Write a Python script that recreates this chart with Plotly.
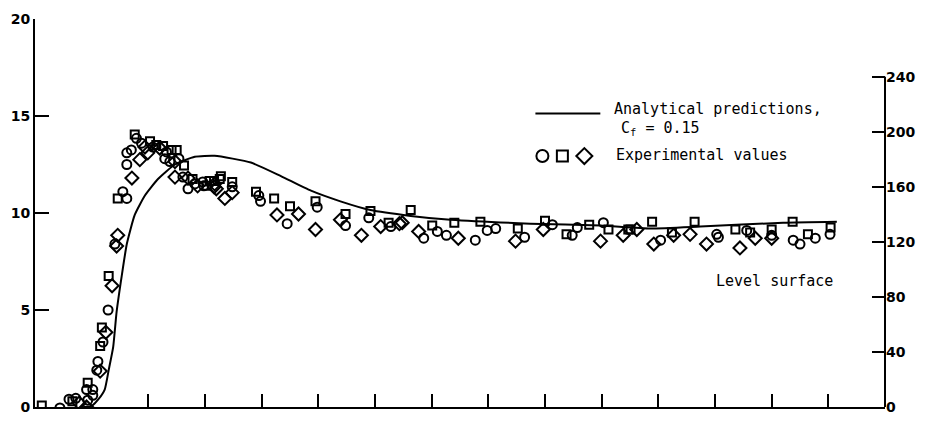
import plotly.graph_objects as go

# Analytical prediction curve (left scale)
curve_x = [0.85, 0.95, 1.02, 1.12, 1.23, 1.30, 1.38, 1.44, 1.53, 1.62, 1.76, 1.94,
           2.17, 2.47, 2.82, 3.17, 3.81, 4.34, 4.87, 5.39, 5.92, 6.63, 7.33, 8.74,
           9.98, 10.86, 11.74, 13.2, 14.15]
curve_y = [0.0, 0.02, 0.1, 0.4, 0.9, 1.9, 3.1, 4.9, 6.75, 8.4, 9.9, 10.9,
           11.75, 12.5, 12.9, 12.95, 12.6, 11.9, 11.15, 10.6, 10.15, 9.85, 9.65, 9.45,
           9.35, 9.2, 9.3, 9.5, 9.55]

# Experimental values, three runs
circle_x = [0.44, 0.6, 0.72, 0.93, 1.02, 0.91, 1.02, 1.09, 1.11, 1.2, 1.29, 1.41, 1.55, 1.62,
            1.62, 1.62, 1.7, 1.79, 1.88, 2.08, 2.32, 2.29, 2.38, 2.54, 2.61, 2.7, 2.82, 2.96,
            2.98, 3.48, 3.95, 3.98, 4.45, 4.98, 5.48, 5.89, 6.28, 6.86, 7.1, 7.26, 7.77, 7.98,
            8.13, 8.64, 9.13, 9.48, 9.57, 10.03, 11.04, 12.03, 12.06, 12.56, 13.0, 13.38, 13.5,
            13.77, 14.03]
circle_y = [-0.05, 0.4, 0.45, 0.35, 0.6, 0.9, 0.9, 1.9, 2.35, 3.35, 5.0, 8.4, 11.1, 10.75,
            12.5, 13.1, 13.25, 13.85, 13.6, 13.4, 13.15, 12.8, 12.65, 12.8, 11.85, 11.25, 11.5, 11.6,
            11.4, 11.35, 10.9, 10.6, 9.45, 10.3, 9.35, 9.75, 9.3, 8.7, 9.05, 8.85, 8.6, 9.1,
            9.2, 8.75, 9.4, 8.85, 9.25, 9.5, 8.6, 8.9, 8.75, 9.1, 8.85, 8.6, 8.4,
            8.7, 8.9]

square_x = [0.12, 0.66, 0.93, 1.15, 1.18, 1.3, 1.46, 1.76, 2.03, 2.14, 2.26, 2.41, 2.5, 2.63,
            2.78, 3.03, 3.08, 3.16, 3.26, 3.28, 3.48, 3.9, 4.22, 4.5, 4.95, 5.48, 5.92, 6.24,
            6.63, 7.01, 7.4, 7.86, 8.52, 9.0, 9.38, 9.78, 10.12, 10.47, 10.51, 10.89, 11.24,
            11.64, 12.36, 12.62, 13.0, 13.37, 13.64, 14.04]
square_y = [0.08, 0.3, 1.25, 3.15, 4.1, 6.75, 10.75, 14.05, 13.7, 13.5, 13.45, 13.25, 13.25, 12.45,
            11.75, 11.4, 11.65, 11.65, 11.75, 11.9, 11.6, 11.1, 10.75, 10.35, 10.6, 9.95, 10.1, 9.5,
            10.15, 9.35, 9.5, 9.55, 9.2, 9.6, 8.9, 9.4, 9.15, 9.15, 9.15, 9.55, 9.0,
            9.55, 9.15, 9.0, 9.15, 9.55, 8.9, 9.25]

diamond_x = [0.78, 0.91, 1.15, 1.25, 1.36, 1.44, 1.46, 1.71, 1.85, 1.94, 1.99, 2.2, 2.47, 2.47,
             2.7, 2.87, 3.16, 3.17, 3.2, 3.35, 3.48, 4.27, 4.65, 4.95, 5.39, 5.76, 6.1, 6.43,
             6.48, 6.77, 7.47, 8.48, 8.97, 9.98, 10.38, 10.62, 10.92, 11.27, 11.56, 11.85,
             12.44, 12.71, 13.0]
diamond_y = [0.2, 0.0, 1.85, 3.85, 6.25, 8.3, 8.85, 11.8, 12.75, 13.4, 13.1, 13.35, 12.65, 11.85,
             11.8, 11.4, 11.35, 11.5, 11.25, 10.75, 11.05, 9.9, 9.95, 9.15, 9.65, 8.85, 9.3, 9.45,
             9.5, 9.05, 8.7, 8.55, 9.15, 8.55, 8.85, 9.15, 8.4, 8.85, 8.9, 8.4,
             8.2, 8.7, 8.7]

left_ticks = [0, 5, 10, 15, 20]
right_ticks = [0, 40, 80, 120, 160, 200, 240]
bottom_ticks = list(range(2, 15))

W, H = 937, 426
ML, MR, MT, MB = 34, 52, 13, 11
PW, PH = W - ML - MR, H - MT - MB


def fx(px):
    return (px - ML) / PW


def fy(py):
    return (H - MB - py) / PH


INK = "black"
fig = go.Figure()

fig.add_trace(go.Scatter(x=curve_x, y=curve_y, mode="lines",
                         line=dict(color=INK, width=2, shape="spline", smoothing=0.5),
                         showlegend=False, hoverinfo="skip"))
fig.add_trace(go.Scatter(x=circle_x, y=circle_y, mode="markers",
                         marker=dict(symbol="circle-open", size=9, color=INK, line=dict(width=2)),
                         showlegend=False))
fig.add_trace(go.Scatter(x=square_x, y=square_y, mode="markers",
                         marker=dict(symbol="square-open", size=8, color=INK, line=dict(width=2)),
                         showlegend=False))
fig.add_trace(go.Scatter(x=diamond_x, y=diamond_y, mode="markers",
                         marker=dict(symbol="diamond-open", size=10, color=INK, line=dict(width=2)),
                         showlegend=False))
# invisible trace to activate the right-hand scale
fig.add_trace(go.Scatter(x=[0], y=[0], yaxis="y2", mode="markers",
                         marker=dict(opacity=0), showlegend=False, hoverinfo="skip"))

tick_font = dict(family="DejaVu Sans", size=14, color=INK, weight="bold")
text_font = dict(family="DejaVu Sans Mono", size=15, color=INK)

shapes = [
    # right-hand scale line runs only up to 240
    dict(type="line", xref="paper", yref="y2", x0=1, x1=1, y0=0, y1=240,
         line=dict(color=INK, width=2)),
    # key: line sample
    dict(type="line", xref="paper", yref="paper", x0=fx(535), x1=fx(600), y0=fy(111), y1=fy(111),
         line=dict(color=INK, width=2)),
    # key: circle, square, diamond
    dict(type="circle", xref="paper", yref="paper", xsizemode="pixel", ysizemode="pixel",
         xanchor=fx(542), yanchor=fy(155), x0=-6, x1=6, y0=-6, y1=6,
         line=dict(color=INK, width=2)),
    dict(type="rect", xref="paper", yref="paper", xsizemode="pixel", ysizemode="pixel",
         xanchor=fx(562), yanchor=fy(155), x0=-5.5, x1=5.5, y0=-5.5, y1=5.5,
         line=dict(color=INK, width=2)),
    dict(type="path", xref="paper", yref="paper", xsizemode="pixel", ysizemode="pixel",
         xanchor=fx(584), yanchor=fy(155), path="M -8 0 L 0 8 L 8 0 L 0 -8 Z",
         line=dict(color=INK, width=2)),
]

annotations = [
    dict(text="Analytical predictions,", x=fx(612), y=fy(106), xref="paper", yref="paper",
         xanchor="left", yanchor="middle", showarrow=False, font=text_font),
    dict(text="C<sub>f</sub> = 0.15", x=fx(619), y=fy(126), xref="paper", yref="paper",
         xanchor="left", yanchor="middle", showarrow=False, font=text_font),
    dict(text="Experimental values", x=fx(614), y=fy(154), xref="paper", yref="paper",
         xanchor="left", yanchor="middle", showarrow=False, font=text_font),
    dict(text="Level surface", x=fx(714), y=fy(284), xref="paper", yref="paper",
         xanchor="left", yanchor="middle", showarrow=False, font=text_font),
]

fig.update_layout(
    width=W, height=H,
    margin=dict(l=ML, r=MR, t=MT, b=MB, pad=0),
    paper_bgcolor="white", plot_bgcolor="white",
    xaxis=dict(range=[0, 15], showgrid=False, zeroline=False, showline=True,
               linecolor=INK, linewidth=2, ticks="inside", tickvals=bottom_ticks,
               ticklen=13, tickwidth=2, tickcolor=INK, showticklabels=False),
    yaxis=dict(range=[0, 20], showgrid=False, zeroline=False, showline=True,
               linecolor=INK, linewidth=2, ticks="inside", tickvals=left_ticks,
               ticklen=14, tickwidth=2, tickcolor=INK, tickfont=tick_font),
    yaxis2=dict(range=[0, 282], overlaying="y", side="right", showgrid=False,
                zeroline=False, showline=False, ticks="inside", tickvals=right_ticks,
                ticklen=13, tickwidth=2, tickcolor=INK, tickfont=tick_font),
    shapes=shapes,
    annotations=annotations,
    showlegend=False,
)

fig.write_html("out.html")
